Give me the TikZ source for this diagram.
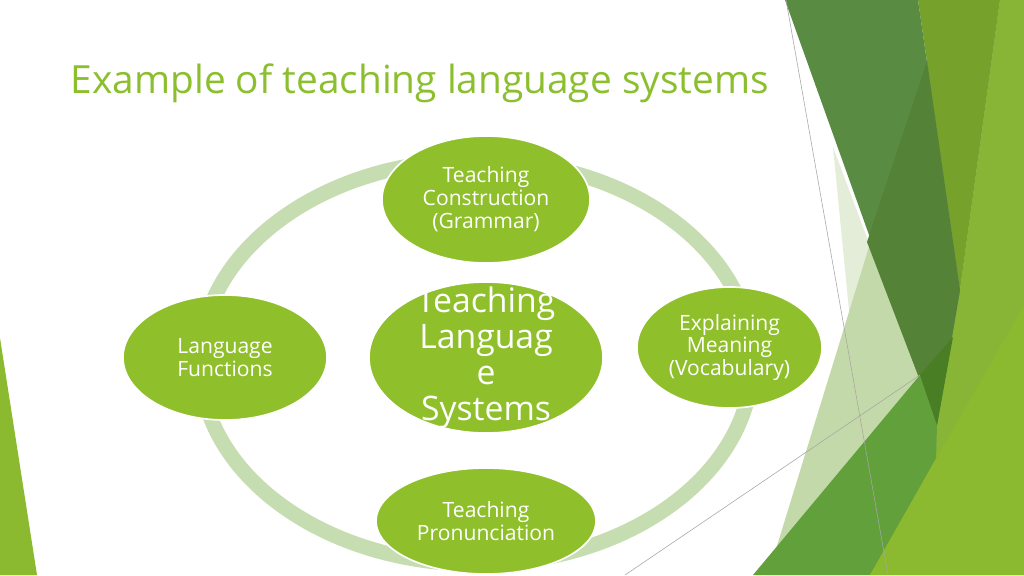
\documentclass[tikz,border=0pt]{standalone}
\usepackage{fontspec}
\setmainfont{Open Sans}
\usepackage{tkz-euclide}
\usetikzlibrary{shapes.geometric}
\definecolor{facetgreen}{HTML}{8FBF2B}
\definecolor{titlegreen}{HTML}{8CBF2E}
\definecolor{ringgreen}{HTML}{C5DDB0}
\definecolor{palesage}{HTML}{E4EDD8}
\definecolor{sage}{HTML}{C4D9A9}
\definecolor{moss}{HTML}{5A8B43}
\definecolor{darkmoss}{HTML}{548236}
\definecolor{deepmoss}{HTML}{4A7E25}
\definecolor{olivegreen}{HTML}{76A12B}
\definecolor{limegreen}{HTML}{88B535}
\definecolor{leaf}{HTML}{62A03C}
\definecolor{brightlime}{HTML}{8BB92F}
\tikzset{
    bubble/.style={ellipse,draw=white,line width=1.2pt,fill=facetgreen,
        text=white,align=center,inner sep=0pt,font=\fontsize{15}{16.3}\selectfont},
    hubtext/.style={text=white,align=center,font=\fontsize{24}{25.5}\selectfont}
}

\begin{document}
\begin{tikzpicture}[x=0.025cm,y=-0.025cm]
        \useasboundingbox (0,0) rectangle (1024,575);
        \fill[white] (0,0) rectangle (1024,575);
        \tkzDefPoints{785/0/A,918/0/B,1000/0/C,1024/0/D,945/0/E,%
            960/290/F,937/425/G,927/61/H,867/242/I,833/147/J,%
            1024/575/K,768/575/L,875/575/M,753/575/N,870/575/O,%
            920/375/P,953/337/Q,936/458/R,1024/305/S,%
            786/0/U,888/575/V,625/575/W,0/338/X,37/575/Y,0/575/Z}
        \tkzFillPolygon[color=palesage](J,G,M)
        \tkzFillPolygon[color=sage](E,D,K,L)
        \tkzFillPolygon[color=limegreen](C,D,K,O,G,F)
        \tkzFillPolygon[color=olivegreen](B,C,F)
        \tkzFillPolygon[color=moss](A,B,F,G)
        \tkzFillPolygon[color=darkmoss](H,F,G,I)
        \tkzFillPolygon[color=leaf](N,P,G,R,O)
        \tkzFillPolygon[color=deepmoss](P,Q,G)
        \tkzFillPolygon[color=brightlime](S,K,O)
        \tkzFillPolygon[color=brightlime](X,Y,Z)
        \tkzDrawSegment[gray!70,line width=.4pt](U,V)
        \tkzDrawSegment[gray!70,line width=.4pt](W,P)
        \coordinate (ringc) at (476,362);
        \draw[ringgreen,line width=0.375cm] (ringc) ellipse [x radius=6.9cm,y radius=5.05cm];
        \node[bubble,minimum width=5.85cm,minimum height=3.775cm] (hub) at (486,357.5) {};
        \node[hubtext] (hublabel) at (hub.center) {Teaching\\Languag\\e\\Systems};
        \node[bubble,minimum width=5.2cm,minimum height=3.175cm] (gram) at (486,199.5) {Teaching\\Construction\\(Grammar)};
        \node[bubble,minimum width=4.625cm,minimum height=3.025cm] (vocab) at (729.5,347.5) {Explaining\\Meaning\\(Vocabulary)};
        \node[bubble,minimum width=5.5cm,minimum height=2.65cm] (pron) at (486,521) {Teaching\\Pronunciation};
        \node[bubble,minimum width=5.1cm,minimum height=3.125cm] (func) at (225,357.5) {Language\\Functions};
        \node[anchor=base west,text=titlegreen,font=\fontsize{27.6}{33}\selectfont] (title) at (66,93) {Example of teaching language systems};
    \end{tikzpicture}
\end{document}
